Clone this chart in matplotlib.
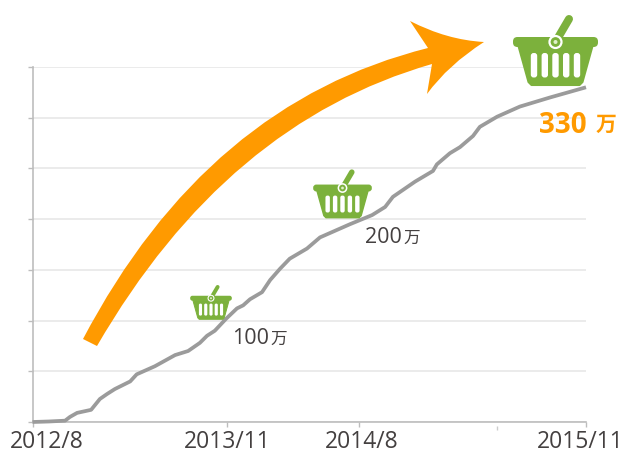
import matplotlib
matplotlib.use('Agg')
import matplotlib.pyplot as plt
from matplotlib.patches import PathPatch, FancyBboxPatch, Polygon, Circle
from matplotlib.path import Path

# weeks since start (axis is not linear in time in the original)
weeks = [0, 5, 10, 11.5, 13.7, 18, 20.7, 22.9, 25.3, 30, 32, 37.6, 43.8, 47.8, 51.4, 53.6, 56,
         59.4, 62.8, 64.7, 66.8, 70.5, 73, 76, 79, 84.3, 88.3, 97.5, 104.3, 108.3, 110.7,
         117.5, 123, 124.2, 128.2, 131.3, 135.3, 137.4, 142.7, 149.7, 159, 170]
users = [0, 0.5, 1.3, 5, 9, 12, 22.7, 27.6, 32.5, 40, 47, 55, 66, 70, 78, 85, 90,
         101.6, 112, 115, 121, 128, 140, 151, 161, 171, 182, 195, 204, 212, 222,
         237, 247.5, 254, 265, 271, 282, 291, 301, 311, 320, 330]
tick_pos = [0, 59.7, 100.3, 170]
tick_labels = ['2012/8', '2013/11', '2014/8', '2015/11']
label_shift = [10, 0, 2, -4]
minor_pos = [142.7]
y_ticks = [0, 50, 100, 150, 200, 250, 300, 350]

ORANGE = '#ff9a00'
GREEN = '#7cb13c'
GREY = '#9b9b9b'
TEXT = '#444040'
JP = ['Open Sans', 'Noto Sans CJK JP']

fig = plt.figure(figsize=(6.2, 4.52), dpi=100)
ax = fig.add_axes([32.5 / 620, 29 / 452, 553.5 / 620, 355 / 452])
ax.set_xlim(0, 170)
ax.set_ylim(0, 350)
ax.plot(weeks, users, color=GREY, lw=2.7, solid_capstyle='butt', zorder=3, clip_on=False)

ax.set_yticks(y_ticks)
ax.set_yticklabels([])
ax.grid(axis='y', color='#e8e8e8', lw=1.2)
ax.set_axisbelow(True)
ax.set_xticks(tick_pos)
ax.set_xticklabels([])
for s in ['top', 'right']:
    ax.spines[s].set_visible(False)
for s in ['left', 'bottom']:
    ax.spines[s].set_color('#bdbdbd')
    ax.spines[s].set_linewidth(1.2)
ax.tick_params(axis='both', color='#bdbdbd', length=3.5, width=1)
ax.plot(minor_pos, [-6], marker='|', color='#cccccc', ms=3, clip_on=False)

for p, l, d in zip(tick_pos, tick_labels, label_shift):
    ax.annotate(l, (p, 0), xytext=(d, -18), textcoords='offset points', ha='center', va='baseline',
                fontsize=16.5, color=TEXT, family='Open Sans', annotation_clip=False)

# overlay in image pixels for the decoration
ov = fig.add_axes([0, 0, 1, 1])
ov.set_xlim(0, 620)
ov.set_ylim(452, 0)
ov.axis('off')
ov.patch.set_alpha(0)


def basket(cx, top, s):
    # sizes come from the big basket, 85 px wide
    def X(v):
        return cx + v * s

    def Y(v):
        return top + v * s

    ov.plot([X(0), X(13.5)], [Y(29), Y(6)], color=GREEN, lw=8 * s * 0.72, solid_capstyle='round', zorder=5)
    ov.add_patch(FancyBboxPatch((X(-42.5), Y(24)), 85 * s, 10 * s, boxstyle='round,pad=0,rounding_size=%f' % (4.5 * s),
                                fc=GREEN, ec='none', zorder=5))
    ov.add_patch(Polygon([(X(-37), Y(33)), (X(37), Y(33)), (X(27), Y(69)), (X(24), Y(72)), (X(-24), Y(72)), (X(-27), Y(69))],
                         closed=True, fc=GREEN, ec=GREEN, lw=1.5 * s, joinstyle='round', zorder=5))
    for k in [-21.5, -10.7, 0, 10.7, 21.5]:
        ov.add_patch(FancyBboxPatch((X(k - 3.2), Y(40)), 6.4 * s, 24.5 * s, boxstyle='round,pad=0,rounding_size=%f' % (2.8 * s),
                                    fc='white', ec='none', zorder=6))
    ov.add_patch(Circle((X(0), Y(29)), 6 * s, fc=GREEN, ec='white', lw=1.6 * s, zorder=6))
    ov.add_patch(Circle((X(0), Y(29)), 2 * s, fc='#dff0c8', ec='none', zorder=7))


basket(555.5, 14, 1.0)
basket(342.5, 169, 0.69)
basket(211, 285, 0.49)

# curved arrow
verts = [(83, 340), (207, 104), (428, 49), (410, 22), (447, 41), (484, 43), (484, 43), (448, 66), (427, 95),
         (432, 65), (432, 65), (226, 124), (97, 347), (83, 340)]
codes = [Path.MOVETO, Path.CURVE3, Path.CURVE3, Path.LINETO, Path.CURVE3, Path.CURVE3, Path.LINETO, Path.CURVE3, Path.CURVE3,
         Path.LINETO, Path.LINETO, Path.CURVE3, Path.CURVE3, Path.CLOSEPOLY]
ov.add_patch(PathPatch(Path(verts, codes), fc=ORANGE, ec='none', zorder=4))

ov.text(232, 344, '100', fontsize=15.5, color=TEXT, family='Open Sans', va='baseline')
ov.text(270, 344, '万', fontsize=12, color=TEXT, family=JP, va='baseline')
ov.text(365, 243, '200', fontsize=15.5, color=TEXT, family='Open Sans', va='baseline')
ov.text(403, 243, '万', fontsize=12, color=TEXT, family=JP, va='baseline')
ov.text(539, 133, '330', fontsize=20, color=ORANGE, family='Open Sans', weight='bold', va='baseline')
ov.text(596, 131, '万', fontsize=15, color=ORANGE, family=JP, weight='bold', va='baseline')

fig.savefig('out.png', dpi=100)
